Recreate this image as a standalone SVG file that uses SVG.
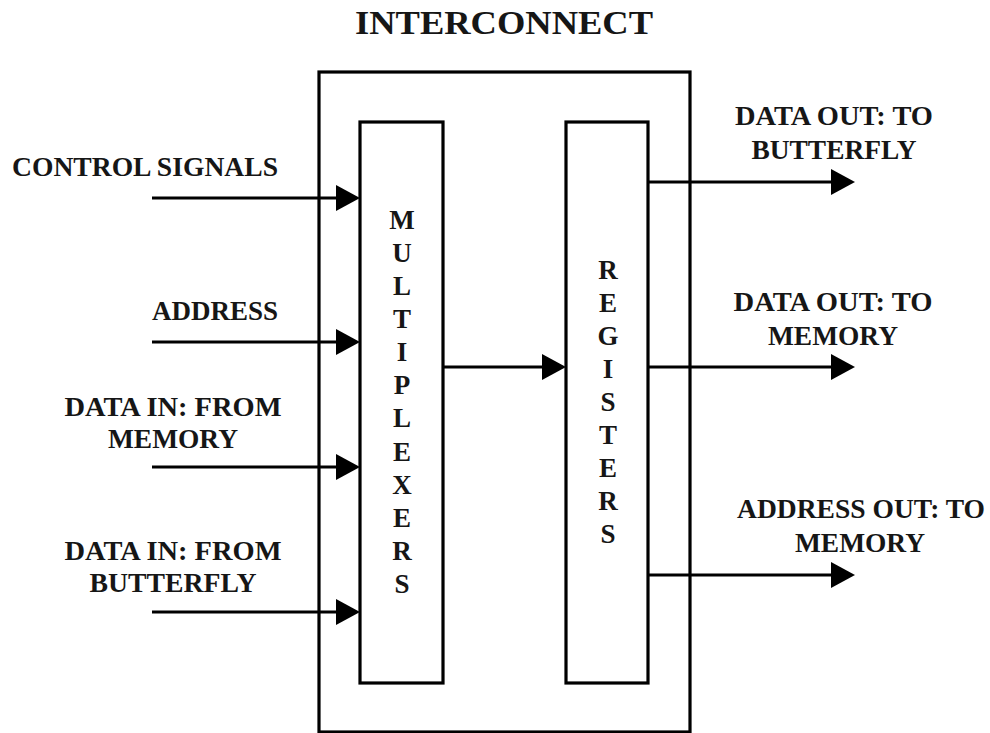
<svg xmlns="http://www.w3.org/2000/svg" width="990" height="733" viewBox="0 0 990 733">
  <style>
    .box { fill: #ffffff; stroke: #000000; stroke-width: 3.2; }
    .lbl { font-family: "Liberation Serif", "Times New Roman", serif; font-weight: bold; font-size: 28px; fill: #161616; }
    .title { font-size: 33px; }
    .vl { font-family: "Liberation Serif", "Times New Roman", serif; font-weight: bold; font-size: 27px; fill: #161616; text-anchor: middle; }
    .wire { fill: none; stroke: #000000; stroke-width: 3.2; }
  </style>
  <defs>
    <marker id="arrow" markerUnits="userSpaceOnUse" markerWidth="24" markerHeight="26" viewBox="0 0 24 26" refX="14" refY="13" orient="auto">
      <path d="M0,0 L24,13 L0,26 Z" fill="#000000"/>
    </marker>
  </defs>
  <rect width="990" height="733" fill="#ffffff"/>

  <g id="interconnect">
    <rect class="box" x="319" y="72" width="371" height="660"/>
    <text class="lbl title" x="504" y="34" text-anchor="middle" textLength="298" lengthAdjust="spacingAndGlyphs">INTERCONNECT</text>
  </g>

  <g id="multiplexers">
    <rect class="box" x="360" y="122" width="83" height="561"/>
    <text class="vl" x="402" y="229">M</text>
    <text class="vl" x="402" y="262">U</text>
    <text class="vl" x="402" y="295">L</text>
    <text class="vl" x="402" y="328">T</text>
    <text class="vl" x="402" y="361">I</text>
    <text class="vl" x="402" y="394">P</text>
    <text class="vl" x="402" y="427">L</text>
    <text class="vl" x="402" y="461">E</text>
    <text class="vl" x="402" y="494">X</text>
    <text class="vl" x="402" y="527">E</text>
    <text class="vl" x="402" y="560">R</text>
    <text class="vl" x="402" y="593">S</text>
  </g>

  <g id="registers">
    <rect class="box" x="566" y="122" width="82" height="561"/>
    <text class="vl" x="608" y="279">R</text>
    <text class="vl" x="608" y="312">E</text>
    <text class="vl" x="608" y="345">G</text>
    <text class="vl" x="608" y="378">I</text>
    <text class="vl" x="608" y="411">S</text>
    <text class="vl" x="608" y="444">T</text>
    <text class="vl" x="608" y="477">E</text>
    <text class="vl" x="608" y="510">R</text>
    <text class="vl" x="608" y="543">S</text>
  </g>

  <g id="in-control">
    <text class="lbl" x="278" y="176" text-anchor="end" textLength="266" lengthAdjust="spacingAndGlyphs">CONTROL SIGNALS</text>
  </g>
  <g id="in-address">
    <text class="lbl" x="278" y="320" text-anchor="end" textLength="126" lengthAdjust="spacingAndGlyphs">ADDRESS</text>
  </g>
  <g id="in-data-memory">
    <text class="lbl" x="173" y="416" text-anchor="middle" textLength="217" lengthAdjust="spacingAndGlyphs">DATA IN: FROM</text>
    <text class="lbl" x="173" y="448" text-anchor="middle" textLength="130" lengthAdjust="spacingAndGlyphs">MEMORY</text>
  </g>
  <g id="in-data-butterfly">
    <text class="lbl" x="173" y="560" text-anchor="middle" textLength="217" lengthAdjust="spacingAndGlyphs">DATA IN: FROM</text>
    <text class="lbl" x="173" y="592" text-anchor="middle" textLength="167" lengthAdjust="spacingAndGlyphs">BUTTERFLY</text>
  </g>
  <g id="out-data-butterfly">
    <text class="lbl" x="834" y="125" text-anchor="middle" textLength="198" lengthAdjust="spacingAndGlyphs">DATA OUT: TO</text>
    <text class="lbl" x="834" y="159" text-anchor="middle" textLength="165" lengthAdjust="spacingAndGlyphs">BUTTERFLY</text>
  </g>
  <g id="out-data-memory">
    <text class="lbl" x="833" y="311" text-anchor="middle" textLength="199" lengthAdjust="spacingAndGlyphs">DATA OUT: TO</text>
    <text class="lbl" x="833" y="345" text-anchor="middle" textLength="130" lengthAdjust="spacingAndGlyphs">MEMORY</text>
  </g>
  <g id="out-address-memory">
    <text class="lbl" x="861" y="518" text-anchor="middle" textLength="248" lengthAdjust="spacingAndGlyphs">ADDRESS OUT: TO</text>
    <text class="lbl" x="860" y="552" text-anchor="middle" textLength="130" lengthAdjust="spacingAndGlyphs">MEMORY</text>
  </g>

  <g id="connectors">
    <line class="wire" x1="152" y1="198" x2="350" y2="198" marker-end="url(#arrow)"/>
    <line class="wire" x1="152" y1="342" x2="350" y2="342" marker-end="url(#arrow)"/>
    <line class="wire" x1="152" y1="467" x2="350" y2="467" marker-end="url(#arrow)"/>
    <line class="wire" x1="152" y1="612" x2="350" y2="612" marker-end="url(#arrow)"/>
    <line class="wire" x1="443" y1="367" x2="556" y2="367" marker-end="url(#arrow)"/>
    <line class="wire" x1="648" y1="182" x2="845" y2="182" marker-end="url(#arrow)"/>
    <line class="wire" x1="648" y1="367" x2="845" y2="367" marker-end="url(#arrow)"/>
    <line class="wire" x1="648" y1="575" x2="845" y2="575" marker-end="url(#arrow)"/>
  </g>
</svg>
